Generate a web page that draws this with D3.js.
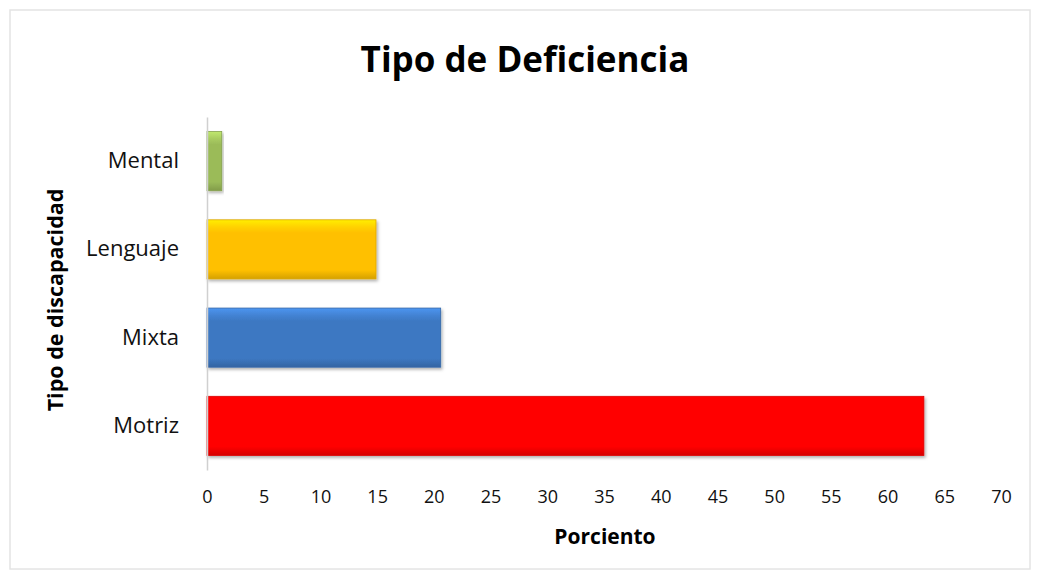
<!DOCTYPE html>
<meta charset="utf-8">
<head>
  <title>Tipo de Deficiencia</title>
  <script src="https://d3js.org/d3.v7.min.js"></script>
  <style>
    body { margin: 0; background: #fff; font-family: "Open Sans", "Lato", sans-serif; }
    .tick text { fill: #111; }
  </style>
</head>
<body>
<script>
  // Chart data
  var categories = ["Mental", "Lenguaje", "Mixta", "Motriz"];
  var values = [1.3, 14.9, 20.6, 63.2];
  var barColors = ["#9bbb59", "#ffc000", "#3d78c2", "#ff0000"];
  var xTicks = [0, 5, 10, 15, 20, 25, 30, 35, 40, 45, 50, 55, 60, 65, 70];

  var width = 1038, height = 579;
  var margin = { left: 207, right: 37, top: 117, bottom: 109 };

  var svg = d3.select("body").append("svg")
    .attr("width", width)
    .attr("height", height);

  // light chart frame
  svg.append("rect")
    .attr("x", 10).attr("y", 10)
    .attr("width", 1020).attr("height", 559)
    .attr("fill", "#fff")
    .attr("stroke", "#e4e4e4")
    .attr("stroke-width", 1.5);

  var defs = svg.append("defs");
  barColors.forEach(function(c, i) {
    var g = defs.append("linearGradient")
      .attr("id", "grad" + i)
      .attr("x1", 0).attr("y1", 0).attr("x2", 0).attr("y2", 1);
    var base = d3.color(c);
    g.append("stop").attr("offset", "0%").attr("stop-color", base.brighter(0.6));
    g.append("stop").attr("offset", "12%").attr("stop-color", base.brighter(0.25));
    g.append("stop").attr("offset", "22%").attr("stop-color", base);
    g.append("stop").attr("offset", "85%").attr("stop-color", base);
    g.append("stop").attr("offset", "100%").attr("stop-color", base.darker(0.5));
  });
  var shadow = defs.append("filter").attr("id", "shadow")
    .attr("x", "-5%").attr("y", "-10%").attr("width", "115%").attr("height", "130%");
  shadow.append("feDropShadow")
    .attr("dx", 1.5).attr("dy", 2).attr("stdDeviation", 1.5)
    .attr("flood-color", "#000").attr("flood-opacity", 0.3);

  var x = d3.scaleLinear()
    .domain([0, 70])
    .range([margin.left, width - margin.right]);

  var y = d3.scaleBand()
    .domain(categories)
    .range([margin.top, height - margin.bottom])
    .paddingInner(0.33)
    .paddingOuter(0.165);

  // value axis (labels only)
  var xAxis = svg.append("g")
    .attr("transform", "translate(0," + (height - margin.bottom) + ")")
    .call(d3.axisBottom(x).tickValues(xTicks).tickSize(0).tickPadding(20));
  xAxis.select(".domain").remove();
  xAxis.selectAll("text")
    .style("font-size", "18px")
    .style("font-family", "'Open Sans', sans-serif");

  // bars
  svg.append("g").selectAll("rect")
    .data(values)
    .enter().append("rect")
    .attr("x", x(0))
    .attr("y", function(d, i) { return y(categories[i]); })
    .attr("width", function(d) { return x(d) - x(0); })
    .attr("height", y.bandwidth())
    .attr("fill", function(d, i) { return "url(#grad" + i + ")"; })
    .attr("stroke", function(d, i) { return d3.color(barColors[i]).darker(0.4); })
    .attr("stroke-width", 0.8)
    .attr("filter", "url(#shadow)");

  // category axis
  var yAxis = svg.append("g")
    .attr("transform", "translate(" + margin.left + ",0)")
    .call(d3.axisLeft(y).tickSize(0).tickPadding(28));
  yAxis.select(".domain")
    .attr("stroke", "#d0d0d0")
    .attr("stroke-width", 1.5);
  yAxis.selectAll("text")
    .style("font-size", "22px")
    .style("font-family", "'Open Sans', sans-serif");

  // titles
  svg.append("text")
    .attr("x", 525).attr("y", 72)
    .attr("text-anchor", "middle")
    .style("font-size", "35px")
    .style("font-weight", "bold")
    .text("Tipo de Deficiencia");

  svg.append("text")
    .attr("x", 605).attr("y", 544)
    .attr("text-anchor", "middle")
    .style("font-size", "21px")
    .style("font-weight", "bold")
    .text("Porciento");

  svg.append("text")
    .attr("transform", "translate(63,300) rotate(-90)")
    .attr("text-anchor", "middle")
    .style("font-size", "21.5px")
    .style("font-weight", "bold")
    .text("Tipo de discapacidad");
</script>
</body>
</html>
